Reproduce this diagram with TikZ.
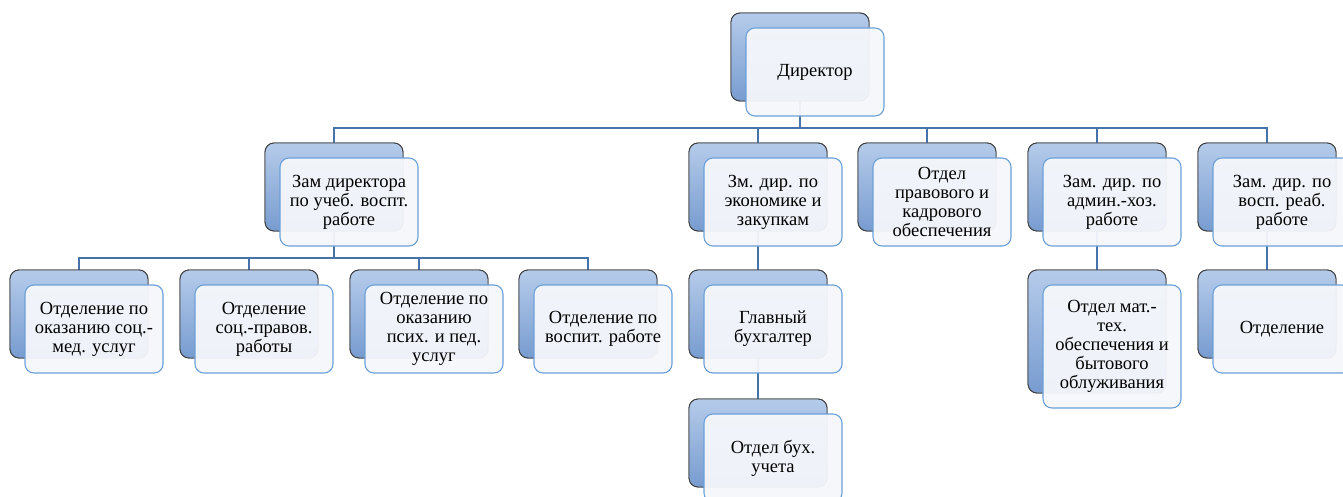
\documentclass[tikz,border=0pt]{standalone}
\usepackage{fontspec}
\setmainfont{Liberation Serif}
\definecolor{backtop}{HTML}{B5CBEA}
\definecolor{backbot}{HTML}{789CD0}
\definecolor{backline}{HTML}{3F3F3F}
\definecolor{frontline}{HTML}{6CA0D8}
\definecolor{frontfill}{HTML}{F5F7FB}
\definecolor{connc}{HTML}{4674AA}
\begin{document}
\begin{tikzpicture}[x=1pt,y=-1pt,
 backbox/.style={rectangle, rounded corners=9pt, draw=backline, line width=0.9pt,
   top color=backtop, bottom color=backbot, minimum width=138pt, minimum height=88pt, inner sep=0pt},
 frontbox/.style={rectangle, rounded corners=9pt, draw=frontline, line width=1.1pt,
   fill=frontfill, fill opacity=0.95, text opacity=1, minimum width=138pt, minimum height=88pt,
   inner sep=1pt, align=center, font=\fontsize{18.5}{19}\selectfont},
 conn/.style={draw=connc, line width=2.9pt}
]
\useasboundingbox (0,0) rectangle (1343,497);
\clip (0,0) rectangle (1343,497);
\fill[white] (0,0) rectangle (1343,497);

% back boxes
\node[backbox] (dirB) at (800,57) {};
\node[backbox] (zamB) at (334,187) {};
\node[backbox] (ecoB) at (758,187) {};
\node[backbox] (pravB) at (927,187) {};
\node[backbox] (admB) at (1097,187) {};
\node[backbox] (vospB) at (1267,187) {};
\node[backbox] (o1B) at (79,314) {};
\node[backbox] (o2B) at (249,314) {};
\node[backbox] (o3B) at (419,314) {};
\node[backbox] (o4B) at (588,314) {};
\node[backbox] (buhB) at (758,314) {};
\node[backbox, minimum height=123pt] (matB) at (1097,331.5) {};
\node[backbox] (otdB) at (1267,314) {};
\node[backbox] (ubuhB) at (758,443) {};

% connectors
\coordinate (bus1) at (800,128);
\coordinate (bus2) at (334,258);
\draw[conn] (dirB.south) -- (bus1);
\foreach \c in {zamB,ecoB,pravB,admB,vospB} \draw[conn] (bus1) -| (\c.north);
\draw[conn] (zamB.south) -- (bus2);
\foreach \c in {o1B,o2B,o3B,o4B} \draw[conn] (bus2) -| (\c.north);
\draw[conn] (ecoB.south) -- (buhB.north);
\draw[conn] (buhB.south) -- (ubuhB.north);
\draw[conn] (admB.south) -- (matB.north);
\draw[conn] (vospB.south) -- (otdB.north);

% redraw back boxes over connectors
\foreach \p/\h in {{(800,57)}/88,{(334,187)}/88,{(758,187)}/88,{(927,187)}/88,{(1097,187)}/88,{(1267,187)}/88,{(79,314)}/88,{(249,314)}/88,{(419,314)}/88,{(588,314)}/88,{(758,314)}/88,{(1097,331.5)}/123,{(1267,314)}/88,{(758,443)}/88}
  \node[backbox, minimum height=\h pt] at \p {};

% front boxes
\node[frontbox] (dir) at (815,72) {Директор};
\node[frontbox] (zam) at (349,202) {Зам директора\\по учеб. воспт.\\работе};
\node[frontbox] (eco) at (773,202) {Зм. дир. по\\экономике и\\закупкам};
\node[frontbox] (prav) at (942,202) {Отдел\\правового и\\кадрового\\обеспечения};
\node[frontbox] (adm) at (1112,202) {Зам. дир. по\\админ.-хоз.\\работе};
\node[frontbox] (vosp) at (1282,202) {Зам. дир. по\\восп. реаб.\\работе};
\node[frontbox] (o1) at (94,329) {Отделение по\\оказанию соц.-\\мед. услуг};
\node[frontbox] (o2) at (264,329) {Отделение\\соц.-правов.\\работы};
\node[frontbox] (o3) at (434,329) {Отделение по\\оказанию\\псих. и пед.\\услуг};
\node[frontbox] (o4) at (603,329) {Отделение по\\воспит. работе};
\node[frontbox] (buh) at (773,329) {Главный\\бухгалтер};
\node[frontbox, minimum height=123pt] (mat) at (1112,346.5) {Отдел мат.-\\тех.\\обеспечения и\\бытового\\облуживания};
\node[frontbox] (otd) at (1282,329) {Отделение};
\node[frontbox] (ubuh) at (773,458) {Отдел бух.\\учета};
\end{tikzpicture}
\end{document}
